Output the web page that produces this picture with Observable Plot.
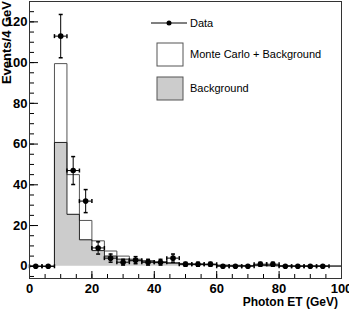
<!DOCTYPE html>
<html><head><meta charset="utf-8">
<script src="https://cdn.jsdelivr.net/npm/d3@7"></script>
<script src="https://cdn.jsdelivr.net/npm/@observablehq/plot@0.6"></script>
<style>body{margin:0;background:#fff;} svg{display:block;}</style>
</head><body><div id="chart"></div>
<script>
// Bin low edges (4 GeV bins)
const binLow = [0,4,8,12,16,20,24,28,32,36,40,44,48,52,56,60,64,68,72,76,80,84,88,92,96];
// Monte Carlo + Background (events / bin)
const mcValues = [0,0,99.5,45,22.5,12.5,7.5,5,3.5,2.8,2.2,1.8,1.4,1.2,1.0,0.6,0.5,0.4,0.5,0.4,0.3,0.2,0.2,0.2,0.1];
// Background only
const bkgValues = [0,0,60.8,25.5,13,7.7,5,3.5,2.7,2.2,1.8,1.5,1.1,0.9,0.8,0.4,0.3,0.3,0.3,0.2,0.2,0.1,0.1,0.1,0.1];
// Data points at bin centres
const dataX = [2,6,10,14,18,22,26,30,34,38,42,46,50,54,58,62,66,70,74,78,82,86,90,94];
const dataCounts = [0,0,113,47,32,9,4,2,3,2,2,4,1,1,1,0,0,0,1,1,0,0,0,0];
// Axis ticks
const xMajor = [0,20,40,60,80,100];
const xMinor = d3.range(0,101,5);
const yMajor = [0,20,40,60,80,100,120];
const yMinor = d3.range(-5,131,5);
// Legend labels
const legendLabels = ["Data", "Monte Carlo + Background", "Background"];

const binWidth = 4;
const xMax = 100;
const steps = (vals) => binLow.map((x,i)=>({x, y: vals[i]})).concat([{x: xMax, y: vals[vals.length-1]}]);
const mcSteps = steps(mcValues);
const bkgSteps = steps(bkgValues);
const data = dataX.map((x,i)=>({x, y: dataCounts[i], err: Math.sqrt(dataCounts[i])}));
const dataErr = data.filter(d=>d.y>0);

const hcap = {draw(ctx){ ctx.moveTo(-2,0); ctx.lineTo(2,0); }};
const vcap = {draw(ctx){ ctx.moveTo(0,-2); ctx.lineTo(0,2); }};

const W = 349, H = 311;
const plot = Plot.plot({
  width: W, height: H,
  marginLeft: 29, marginRight: 8, marginTop: 1, marginBottom: 33,
  style: {fontFamily: "'Liberation Sans', Arial, sans-serif", background: "#fff", color: "#000"},
  x: {domain: [0, 100]},
  y: {domain: [-6, 130]},
  marks: [
    Plot.areaY(bkgSteps, {x: "x", y: "y", curve: "step-after", fill: "#cccccc"}),
    Plot.line(mcSteps, {x: "x", y: "y", curve: "step-after", stroke: "#555", strokeWidth: 1}),
    Plot.line(bkgSteps, {x: "x", y: "y", curve: "step-after", stroke: "#222", strokeWidth: 1}),
    // error bars
    Plot.ruleX(dataErr, {x: "x", y1: d=>d.y-d.err, y2: d=>d.y+d.err, stroke: "#000"}),
    Plot.ruleY(data, {y: "y", x1: d=>d.x-binWidth/2, x2: d=>d.x+binWidth/2, stroke: "#000"}),
    Plot.dot(dataErr, {x: "x", y: d=>d.y+d.err, symbol: hcap, stroke: "#000", r: 2}),
    Plot.dot(dataErr, {x: "x", y: d=>d.y-d.err, symbol: hcap, stroke: "#000", r: 2}),
    Plot.dot(data, {x: d=>d.x-binWidth/2, y: "y", symbol: vcap, stroke: "#000", r: 2}),
    Plot.dot(data, {x: d=>d.x+binWidth/2, y: "y", symbol: vcap, stroke: "#000", r: 2}),
    Plot.dot(data, {x: "x", y: "y", r: 2.8, fill: "#000"}),
    // axes
    Plot.axisX({ticks: xMinor, tickSize: -4, text: null, label: null, stroke: "#000"}),
    Plot.axisX({ticks: xMajor, tickSize: -7, text: null, label: null, stroke: "#000"}),
    Plot.axisX({ticks: xMajor, tickSize: 0, tickPadding: 5, label: null, fontSize: 13, fontWeight: "bold", fill: "#000"}),
    Plot.axisY({ticks: yMinor, tickSize: -5, text: null, label: null, stroke: "#000"}),
    Plot.axisY({ticks: yMajor, tickSize: -9, text: null, label: null, stroke: "#000"}),
    Plot.axisY({ticks: yMajor, tickSize: 0, tickPadding: 2, label: null, fontSize: 13, fontWeight: "bold", fill: "#000"}),
    Plot.frame({stroke: "#333"})
  ]
});
document.getElementById("chart").appendChild(plot);

const svg = d3.select(plot);
const font = "'Liberation Sans', Arial, sans-serif";
// axis titles
svg.append("text").attr("x", 338).attr("y", 306).attr("text-anchor", "end").attr("fill", "#000")
  .attr("font-family", font).attr("font-size", 12).attr("font-weight", "bold").text("Photon ET (GeV)");
svg.append("text").attr("transform", "translate(11,1) rotate(-90)").attr("text-anchor", "end").attr("fill", "#000")
  .attr("font-family", font).attr("font-size", 13).attr("font-weight", "bold").text("Events/4 GeV");
// legend
const legendRows = [
  {type: "data", cy: 23},
  {type: "mc", cy: 54.5},
  {type: "bkg", cy: 88.5}
];
const lg = svg.append("g");
legendRows.forEach((e, i) => {
  if (e.type === "data") {
    lg.append("line").attr("x1", 151).attr("x2", 187).attr("y1", e.cy).attr("y2", e.cy).attr("stroke", "#000");
    lg.append("circle").attr("cx", 169).attr("cy", e.cy).attr("r", 2.5).attr("fill", "#000");
  } else {
    lg.append("rect").attr("x", 157).attr("y", e.cy - 11.5).attr("width", 26).attr("height", 23)
      .attr("fill", e.type === "mc" ? "#fff" : "#cccccc").attr("stroke", "#555");
  }
  lg.append("text").attr("x", 190).attr("y", e.cy).attr("dy", "0.35em").attr("text-anchor", "start")
    .attr("fill", "#000").attr("font-family", font).attr("font-size", 11).text(legendLabels[i]);
});
</script>
</body></html>
